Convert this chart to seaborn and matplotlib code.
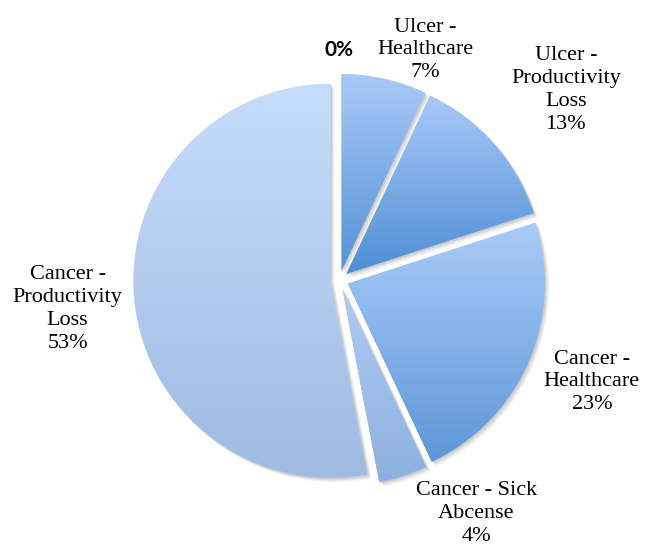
import numpy as np
import matplotlib
matplotlib.use("Agg")
import matplotlib.pyplot as plt
import matplotlib.patheffects as pe
from matplotlib.colors import LinearSegmentedColormap
import seaborn as sns

# Cost shares (percent), clockwise from 12 o'clock
categories = ["Ulcer - Sick\nAbcense", "Ulcer -\nHealthcare", "Ulcer -\nProductivity\nLoss",
              "Cancer -\nHealthcare", "Cancer - Sick\nAbcense", "Cancer -\nProductivity\nLoss"]
shares = [0, 7, 13, 23, 4, 53]

# Vertical gradient per slice (top colour, bottom colour)
top_colors = ["#aac8f4", "#a9c9f7", "#a9c9f7", "#abcbf8", "#aecbf5", "#c6dcfb"]
bottom_colors = ["#5592d6", "#5592d6", "#4f8ed5", "#5e97d8", "#8eb0df", "#9fbbe2"]

# Label placement: angle (deg) and distance (in radii) from pie centre
label_angles = [90.1, 69.6, 40.0, -22.0, -59.7, 186.1]
label_dists = [1.168, 1.246, 1.50, 1.382, 1.375, 1.388]

sns.set_style("white")
plt.rcParams["font.family"] = ["Liberation Serif", "DejaVu Serif"]

W, H = 648, 548
fig = plt.figure(figsize=(W / 100, H / 100), dpi=100)
ax = fig.add_axes([0, 0, 1, 1])

R_PX = 197.0
CX, CY = 339.5, 280.0

wedges, _ = ax.pie(shares, startangle=90, counterclock=False,
                   explode=[0.046] * len(shares), radius=1.0,
                   colors=top_colors,
                   wedgeprops=dict(linewidth=0))

# Soft drop shadow built from a few stacked offsets
shadow = [pe.SimplePatchShadow(offset=(3.0, -3.0), shadow_rgbFace="#909090", alpha=0.12),
          pe.SimplePatchShadow(offset=(2.0, -2.0), shadow_rgbFace="#909090", alpha=0.18),
          pe.SimplePatchShadow(offset=(1.0, -1.0), shadow_rgbFace="#909090", alpha=0.25),
          pe.Normal()]

grad = np.linspace(0, 1, 256).reshape(-1, 1)
for w, c0, c1 in zip(wedges, top_colors, bottom_colors):
    w.set_path_effects(shadow)
    ext = w.get_path().get_extents()
    if ext.width <= 1e-6 or ext.height <= 1e-6:
        continue
    cmap = LinearSegmentedColormap.from_list("g", [c0, c1])
    im = ax.imshow(grad, cmap=cmap, aspect="auto", interpolation="bicubic",
                   extent=[ext.x0, ext.x1, ext.y0, ext.y1], origin="upper",
                   zorder=w.get_zorder() + 0.5)
    im.set_clip_path(w)

for i, (lab, v) in enumerate(zip(categories, shares)):
    a = np.deg2rad(label_angles[i])
    x = label_dists[i] * np.cos(a)
    y = label_dists[i] * np.sin(a)
    if v == 0:
        ax.text(x, y, f"{v}%", ha="center", va="center", fontsize=15,
                fontweight="bold", family=["Lato", "DejaVu Sans"], color="black")
    else:
        ax.text(x, y, f"{lab}\n{v}%", ha="center", va="center", fontsize=16,
                linespacing=1.28, color="black", multialignment="center")

ax.set_xlim(-CX / R_PX, (W - CX) / R_PX)
ax.set_ylim(-(H - CY) / R_PX, CY / R_PX)
ax.set_aspect("auto")
ax.axis("off")

fig.savefig("out.png", dpi=100, facecolor="white")
